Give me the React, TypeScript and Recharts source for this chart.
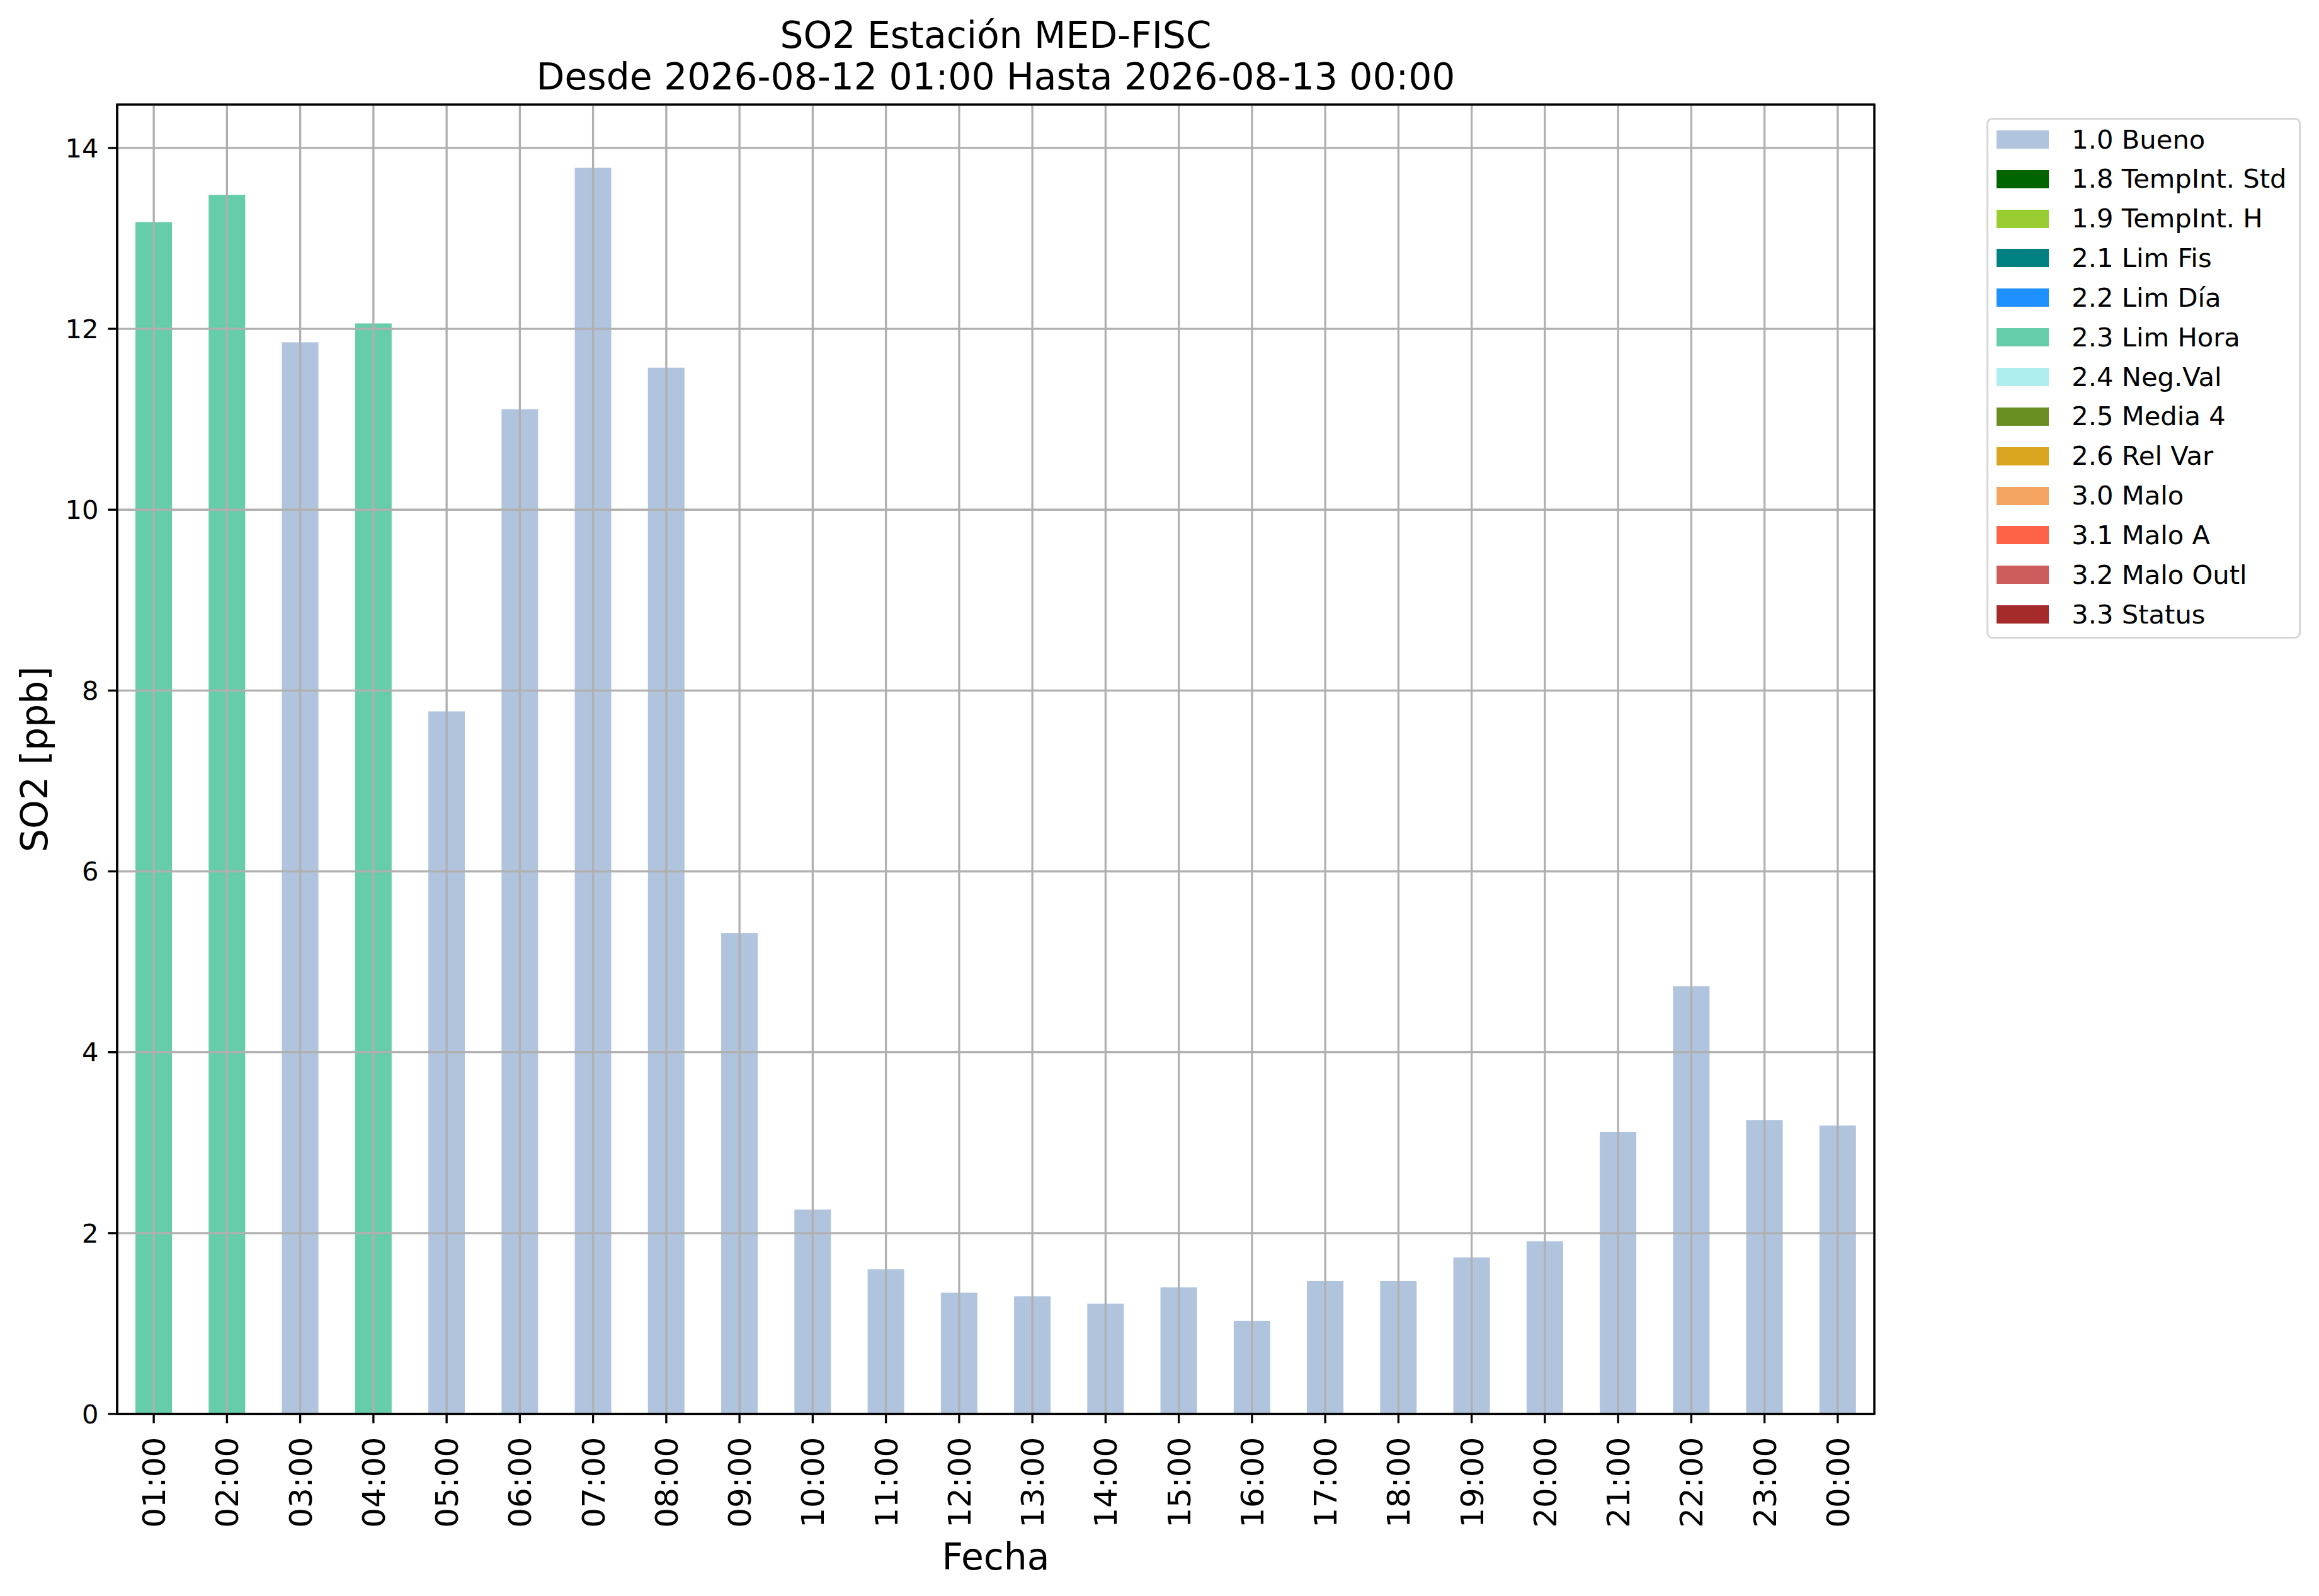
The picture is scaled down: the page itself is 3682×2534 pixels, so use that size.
import React from "react";
import {
  BarChart, Bar, Cell, XAxis, YAxis, CartesianGrid,
} from "recharts";

// ─── data ─────────────────────────────────────────────────────────────────────
const hours = [
  "01:00", "02:00", "03:00", "04:00", "05:00", "06:00", "07:00", "08:00",
  "09:00", "10:00", "11:00", "12:00", "13:00", "14:00", "15:00", "16:00",
  "17:00", "18:00", "19:00", "20:00", "21:00", "22:00", "23:00", "00:00",
];
const so2 = [
  13.18, 13.48, 11.85, 12.06, 7.77, 11.11, 13.78, 11.57,
  5.32, 2.26, 1.6, 1.34, 1.3, 1.22, 1.4, 1.03,
  1.47, 1.47, 1.73, 1.91, 3.12, 4.73, 3.25, 3.19,
];
const hourFlags = [
  "2.3", "2.3", "1.0", "2.3", "1.0", "1.0", "1.0", "1.0",
  "1.0", "1.0", "1.0", "1.0", "1.0", "1.0", "1.0", "1.0",
  "1.0", "1.0", "1.0", "1.0", "1.0", "1.0", "1.0", "1.0",
];
const flagCodes = ["1.0", "1.8", "1.9", "2.1", "2.2", "2.3", "2.4", "2.5", "2.6", "3.0", "3.1", "3.2", "3.3"];
const flagNames = [
  "Bueno", "TempInt. Std", "TempInt. H", "Lim Fis", "Lim Día", "Lim Hora", "Neg.Val",
  "Media 4", "Rel Var", "Malo", "Malo A", "Malo Outl", "Status",
];
const flagColors = [
  "#b0c4de", "#006400", "#9acd32", "#008080", "#1e90ff", "#66cdaa", "#afeeee",
  "#6b8e23", "#daa520", "#f4a460", "#ff6347", "#cd5c5c", "#a52a2a",
];
const yTicks = [0, 2, 4, 6, 8, 10, 12, 14];

const titleLines = ["SO2 Estación MED-FISC", "Desde 2026-08-12 01:00 Hasta 2026-08-13 00:00"];

const rows = hours.map((h, i) => ({ hour: h, value: so2[i], flag: hourFlags[i] }));
const colorOf = (code: string) => flagColors[flagCodes.indexOf(code)];

// ─── layout (px at 3682x2534) ─────────────────────────────────────────────────
const W = 3682;
const H = 2534;
const PLOT_L = 186;
const PLOT_R = 2976;
const PLOT_T = 166;
const PLOT_B = 2245;
const X_AXIS_H = 200;
const FONT = "'DejaVu Sans', sans-serif";
const LW = 3.33;

function HourTick({ x, y, payload }: { x?: number; y?: number; payload?: { value: string } }) {
  return (
    <text
      transform={`rotate(-90, ${x}, ${(y ?? 0) + 20})`}
      x={x} y={(y ?? 0) + 20} dy="0.36em"
      textAnchor="end" fontSize={50} fontFamily={FONT} fill="#000"
    >
      {payload?.value}
    </text>
  );
}

function FlagLegend() {
  return (
    <div style={{
      position: "absolute", left: 3154, top: 187, width: 499, height: 827, boxSizing: "border-box",
      border: `${LW}px solid #d6d6d6`, borderRadius: 9, background: "#fff", fontFamily: FONT,
    }}>
      {flagCodes.map((c, i) => (
        <div key={c} style={{ display: "flex", alignItems: "center", height: 62.85, paddingLeft: 13 }}>
          <span style={{ width: 83.3, height: 29, background: flagColors[i], flexShrink: 0 }} />
          <span style={{ marginLeft: 36, fontSize: 41.67, color: "#000", whiteSpace: "nowrap", lineHeight: 1 }}>
            {c} {flagNames[i]}
          </span>
        </div>
      ))}
    </div>
  );
}

export default function App() {
  return (
    <div style={{ position: "absolute", left: 0, top: 0, width: W, height: H, background: "#fff", overflow: "hidden" }}>
      <BarChart
        width={W} height={H} data={rows}
        margin={{ top: PLOT_T, right: W - PLOT_R, bottom: H - PLOT_B - X_AXIS_H, left: 0 }}
        barCategoryGap="25%"
      >
        <Bar dataKey="value" isAnimationActive={false}>
          {rows.map((r, i) => (
            <Cell key={i} fill={colorOf(r.flag)} />
          ))}
        </Bar>
        <CartesianGrid stroke="#b0b0b0" strokeWidth={LW} {...({ zIndex: 500 } as object)} />
        <XAxis
          dataKey="hour" height={X_AXIS_H} interval={0} tickSize={14.6}
          tick={<HourTick />}
          axisLine={{ stroke: "#000", strokeWidth: LW }}
          tickLine={{ stroke: "#000", strokeWidth: LW }}
        />
        <YAxis
          width={PLOT_L} domain={[0, 14.48]} ticks={yTicks} allowDataOverflow tickSize={14.6} tickMargin={15}
          tick={{ fontSize: 41.67, fill: "#000", fontFamily: FONT }}
          axisLine={{ stroke: "#000", strokeWidth: LW }}
          tickLine={{ stroke: "#000", strokeWidth: LW }}
        />
      </BarChart>

      {/* axes frame (spines) and text labels */}
      <svg width={W} height={H} style={{ position: "absolute", left: 0, top: 0, pointerEvents: "none" }}>
        <rect x={PLOT_L} y={PLOT_T} width={PLOT_R - PLOT_L} height={PLOT_B - PLOT_T}
          fill="none" stroke="#000" strokeWidth={LW} />
        <g fontFamily={FONT} fill="#000" fontSize={58.3} textAnchor="middle">
          <text x={(PLOT_L + PLOT_R) / 2} y={76}>{titleLines[0]}</text>
          <text x={(PLOT_L + PLOT_R) / 2} y={142}>{titleLines[1]}</text>
          <text x={(PLOT_L + PLOT_R) / 2} y={2492}>Fecha</text>
          <text transform={`translate(75, ${(PLOT_T + PLOT_B) / 2}) rotate(-90)`}>SO2 [ppb]</text>
        </g>
      </svg>

      <FlagLegend />
    </div>
  );
}
